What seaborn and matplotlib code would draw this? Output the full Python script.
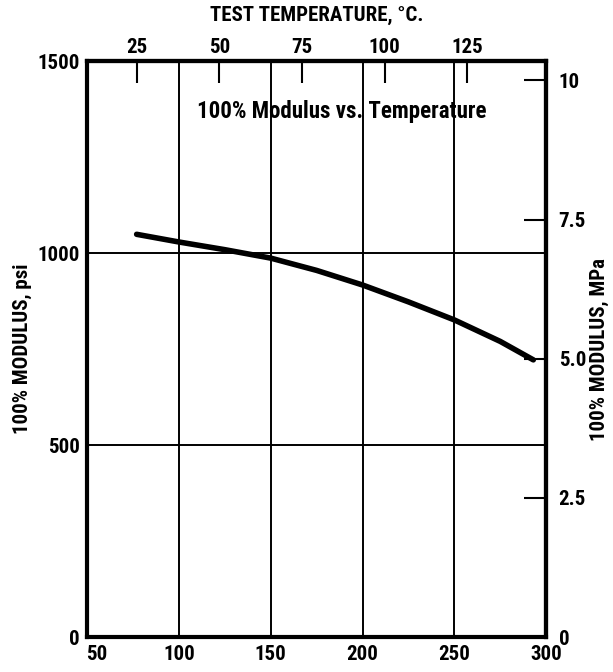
import numpy as np
import pandas as pd
import matplotlib
matplotlib.use("Agg")
import matplotlib.pyplot as plt
from matplotlib import font_manager
import matplotlib.transforms as mtransforms
import seaborn as sns

# Data
temp_f = [77, 100, 125, 150, 175, 200, 225, 250, 275, 293]
modulus_psi = [1049, 1029, 1009, 987, 955, 917, 873, 826, 770, 722]
x_ticks_f = [50, 100, 150, 200, 250, 300]
y_ticks_psi = [0, 500, 1000, 1500]
top_ticks_c = [25, 50, 75, 100, 125]
right_ticks_mpa = [0, 2.5, 5.0, 7.5, 10]
right_tick_labels = ["0", "2.5", "5.0", "7.5", "10"]
title_text = "100% Modulus vs. Temperature"

sns.set_style("white")
names = {f.name for f in font_manager.fontManager.ttflist}
fam = [n for n in ["Roboto Condensed", "Archivo Narrow", "PT Sans Narrow",
                   "Liberation Sans Narrow"] if n in names][:1] + ["DejaVu Sans"]
plt.rcParams["font.family"] = fam
plt.rcParams["font.weight"] = "bold"
for k in ["text.color", "axes.labelcolor", "xtick.color", "ytick.color"]:
    plt.rcParams[k] = "black"

FS = 15

df = pd.DataFrame({"F": temp_f, "psi": modulus_psi})

fig = plt.figure(figsize=(6.13, 6.72), dpi=100)
ax = fig.add_axes([0.142, 0.052, 0.749, 0.857])
sns.lineplot(data=df, x="F", y="psi", ax=ax, color="black", linewidth=4.0,
             solid_capstyle="round", solid_joinstyle="round")

ax.set_xlim(50, 300)
ax.set_ylim(0, 1500)
ax.set_xticks(x_ticks_f)
ax.set_yticks(y_ticks_psi)
ax.set_xticklabels([str(v) for v in x_ticks_f], fontsize=FS, fontweight="bold")
ax.set_yticklabels([str(v) for v in y_ticks_psi], fontsize=FS, fontweight="bold")
ax.tick_params(axis="x", length=0, pad=6)
ax.tick_params(axis="y", length=0, pad=5)
# the "50" label sits a little right of its tick in the reference
lab50 = ax.get_xticklabels()[0]
lab50.set_transform(lab50.get_transform() +
                    mtransforms.ScaledTranslation(10 / 100, 0, fig.dpi_scale_trans))
ax.set_xlabel("")
ax.set_ylabel("100% MODULUS, psi", fontsize=FS, fontweight="bold", labelpad=4)

for v in [100, 150, 200, 250]:
    ax.axvline(v, color="black", linewidth=1.4, zorder=1)
for v in [500, 1000]:
    ax.axhline(v, color="black", linewidth=1.4, zorder=1)

for s in ax.spines.values():
    s.set_linewidth(3.0)
    s.set_color("black")

top = ax.secondary_xaxis("top", functions=(lambda f: (f - 32) * 5 / 9,
                                           lambda c: c * 9 / 5 + 32))
top.set_xticks(top_ticks_c)
top.set_xticklabels([str(v) for v in top_ticks_c], fontsize=FS, fontweight="bold")
top.tick_params(direction="in", length=16, width=1.5, pad=3)
top.set_xlabel("TEST TEMPERATURE, °C.", fontsize=FS, fontweight="bold", labelpad=12)
top.spines["top"].set_linewidth(3.0)

right = ax.secondary_yaxis("right", functions=(lambda p: p / 145.0,
                                               lambda m: m * 145.0))
right.set_yticks(right_ticks_mpa)
right.set_yticklabels(right_tick_labels, fontsize=FS, fontweight="bold")
right.tick_params(direction="in", length=16, width=1.5, pad=9)
right.set_ylabel("100% MODULUS, MPa", fontsize=FS, fontweight="bold", labelpad=3)
right.spines["right"].set_linewidth(3.0)

ax.text(0.555, 0.912, title_text, transform=ax.transAxes,
        ha="center", va="center", fontsize=FS + 1.5, fontweight="bold")

fig.savefig("out.png", dpi=100)
